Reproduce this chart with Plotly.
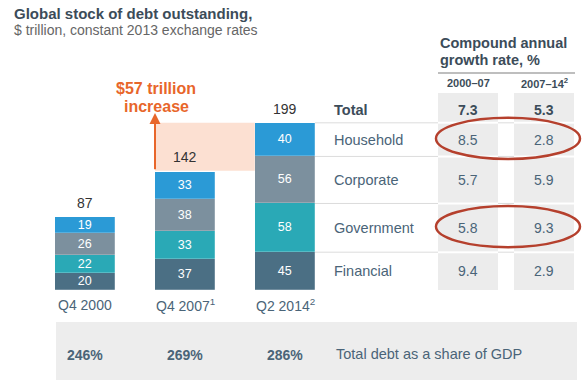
import plotly.graph_objects as go

# ---------------- data ----------------
categories = ["Q4 2000", "Q4 2007", "Q2 2014"]
cat_labels = ["Q4 2000", "Q4 2007<sup>1</sup>", "Q2 2014<sup>2</sup>"]
financial = [20, 37, 45]
government = [22, 33, 58]
corporate = [26, 38, 56]
household = [19, 33, 40]
totals = [87, 142, 199]
gdp_share = ["246%", "269%", "286%"]

row_names = ["Total", "Household", "Corporate", "Government", "Financial"]
cagr_2000_07 = [7.3, 8.5, 5.7, 5.8, 9.4]
cagr_2007_14 = [5.3, 2.8, 5.9, 9.3, 2.9]
col_headers = ["2000–07", "2007–14<sup>2</sup>"]
highlighted = ["Household", "Government"]

# ---------------- style ----------------
C_FIN = "#4b6f84"
C_GOV = "#2aa9b6"
C_CORP = "#7c909e"
C_HH = "#2b9ad6"
C_TXT = "#4a6478"
C_DARK = "#3c4c59"
C_ORANGE = "#e8662a"
C_RED = "#b5402d"
FONT = "Liberation Sans"

W, H = 586, 382
# axis mapping (layout only): x unit = 100px, y unit = 0.84px, baseline at 290px
PX_PER_X = 100.0
X0_PX = 85.0
PX_PER_Y = 0.84
Y0_PX = 290.0


def px2x(px):
    return (px - X0_PX) / PX_PER_X


def px2y(py):
    return (Y0_PX - py) / PX_PER_Y


xpos = list(range(len(categories)))
fig = go.Figure()
series = [("Financial", financial, C_FIN), ("Government", government, C_GOV),
          ("Corporate", corporate, C_CORP), ("Household", household, C_HH)]
for name, vals, col in series:
    fig.add_trace(go.Bar(
        x=xpos, y=vals, name=name, width=0.6,
        marker=dict(color=col, line=dict(color="rgba(255,255,255,0.35)", width=0.6)),
        text=[str(v) for v in vals], textposition="inside", insidetextanchor="middle",
        textangle=0, constraintext="none",
        textfont=dict(color="white", size=12.5, family=FONT),
        hoverinfo="skip", showlegend=False,
    ))

ann = []
shapes = []

# totals above bars, category labels, GDP share
for i, t in enumerate(totals):
    stack = financial[i] + government[i] + corporate[i] + household[i]
    ann.append(dict(x=xpos[i], y=max(t, stack), text=str(t), showarrow=False, yanchor="bottom",
                    yshift=4, font=dict(size=14, color="#333333", family=FONT)))
    ann.append(dict(x=xpos[i], y=px2y(305), text=cat_labels[i], showarrow=False,
                    font=dict(size=14, color=C_TXT, family=FONT)))
    ann.append(dict(x=xpos[i], y=px2y(355), text="<b>" + gdp_share[i] + "</b>", showarrow=False,
                    font=dict(size=14, color=C_TXT, family=FONT)))

ann.append(dict(x=px2x(334), y=px2y(354), text="Total debt as a share of GDP", showarrow=False,
                xanchor="left", font=dict(size=14.5, color=C_TXT, family=FONT)))

# titles
ann.append(dict(x=px2x(12), y=px2y(13), text="<b>Global stock of debt outstanding,</b>", showarrow=False,
                xanchor="left", font=dict(size=15, color=C_DARK, family=FONT)))
ann.append(dict(x=px2x(12), y=px2y(30), text="$ trillion, constant 2013 exchange rates", showarrow=False,
                xanchor="left", font=dict(size=14, color="#666666", family=FONT)))

# increase annotation
ann.append(dict(x=px2x(156), y=px2y(88), text="<b>$57 trillion</b>", showarrow=False,
                font=dict(size=16, color=C_ORANGE, family=FONT)))
ann.append(dict(x=px2x(156), y=px2y(106), text="<b>increase</b>", showarrow=False,
                font=dict(size=16, color=C_ORANGE, family=FONT)))
ann.append(dict(x=xpos[1] - 0.3, y=px2y(113), ax=xpos[1] - 0.3, ay=totals[1],
                xref="x", yref="y", axref="x", ayref="y", text="", showarrow=True,
                arrowhead=2, arrowsize=1.1, arrowwidth=2, arrowcolor=C_ORANGE))

# pink increase band
shapes.append(dict(type="rect", xref="x", yref="y", x0=xpos[1] - 0.3, x1=xpos[2] - 0.3,
                   y0=totals[1], y1=totals[2], fillcolor="#fce0d2", line=dict(width=0), layer="below"))

# bottom grey band
shapes.append(dict(type="rect", xref="x", yref="y", x0=px2x(56), x1=px2x(577),
                   y0=px2y(322), y1=px2y(380), fillcolor="#ededed", line=dict(width=0), layer="below"))

# table
col_x = [(438, 498), (514, 574)]
last = len(categories) - 1
seg_vals = [financial[last], government[last], corporate[last], household[last]]
bounds = [0]
for v in seg_vals:
    bounds.append(bounds[-1] + v)
row_y = [px2y(110)]
centers = [(bounds[k] + bounds[k + 1]) / 2 for k in range(4)]  # fin, gov, corp, hh
row_y += [centers[3], centers[2], centers[1], centers[0]]

for (a, b) in col_x:
    shapes.append(dict(type="rect", xref="x", yref="y", x0=px2x(a), x1=px2x(b),
                       y0=0, y1=px2y(93), fillcolor="#ececec", line=dict(width=0), layer="below"))
sep_ys = [bounds[4], bounds[3], bounds[2], bounds[1]]
for yv in sep_ys:
    shapes.append(dict(type="line", xref="x", yref="y", x0=xpos[last] + 0.3, x1=px2x(574),
                       y0=yv, y1=yv, line=dict(color="#dcdcdc", width=1), layer="below"))
    for (a, b) in col_x:
        shapes.append(dict(type="line", xref="x", yref="y", x0=px2x(a), x1=px2x(b),
                           y0=yv, y1=yv, line=dict(color="white", width=2), layer="below"))

# header
ann.append(dict(x=px2x(438), y=px2y(43), text="<b>Compound annual</b>", showarrow=False, xanchor="left",
                font=dict(size=14.5, color=C_DARK, family=FONT)))
ann.append(dict(x=px2x(438), y=px2y(60), text="<b>growth rate, %</b>", showarrow=False, xanchor="left",
                font=dict(size=14.5, color=C_DARK, family=FONT)))
shapes.append(dict(type="line", xref="x", yref="y", x0=px2x(438), x1=px2x(575),
                   y0=px2y(73), y1=px2y(73), line=dict(color="#a8a8a8", width=1.5)))
for j, h in enumerate(col_headers):
    cx = px2x((col_x[j][0] + col_x[j][1]) / 2)
    ann.append(dict(x=cx, y=px2y(83), text="<b>" + h + "</b>", showarrow=False,
                    font=dict(size=11, color=C_DARK, family=FONT)))

for r, name in enumerate(row_names):
    bold = (name == "Total")
    fmt = (lambda s: "<b>" + s + "</b>") if bold else (lambda s: s)
    ann.append(dict(x=px2x(332), y=row_y[r], text=fmt(name), showarrow=False, xanchor="left",
                    font=dict(size=14.5, color=C_DARK if bold else C_TXT, family=FONT)))
    for j, vals in enumerate([cagr_2000_07, cagr_2007_14]):
        cx = px2x((col_x[j][0] + col_x[j][1]) / 2)
        ann.append(dict(x=cx, y=row_y[r], text=fmt(f"{vals[r]:.1f}"), showarrow=False,
                        font=dict(size=14, color=C_DARK if bold else C_TXT, family=FONT)))
    if name in highlighted:
        shapes.append(dict(type="circle", xref="x", yref="y", x0=px2x(436), x1=px2x(580),
                           y0=row_y[r] - 23, y1=row_y[r] + 26, line=dict(color=C_RED, width=2.5)))

fig.update_layout(
    width=W, height=H, margin=dict(l=0, r=0, t=0, b=0),
    paper_bgcolor="white", plot_bgcolor="white",
    barmode="stack", bargap=0,
    xaxis=dict(range=[px2x(0), px2x(W)], domain=[0, 1], visible=False, fixedrange=True),
    yaxis=dict(range=[px2y(H), px2y(0)], domain=[0, 1], visible=False, fixedrange=True),
    annotations=ann, shapes=shapes,
    uniformtext=dict(minsize=11, mode="show"),
)

fig.write_html("out.html", config={"displayModeBar": False},
               post_script="document.body.style.margin='0';document.body.style.overflow='hidden';")
